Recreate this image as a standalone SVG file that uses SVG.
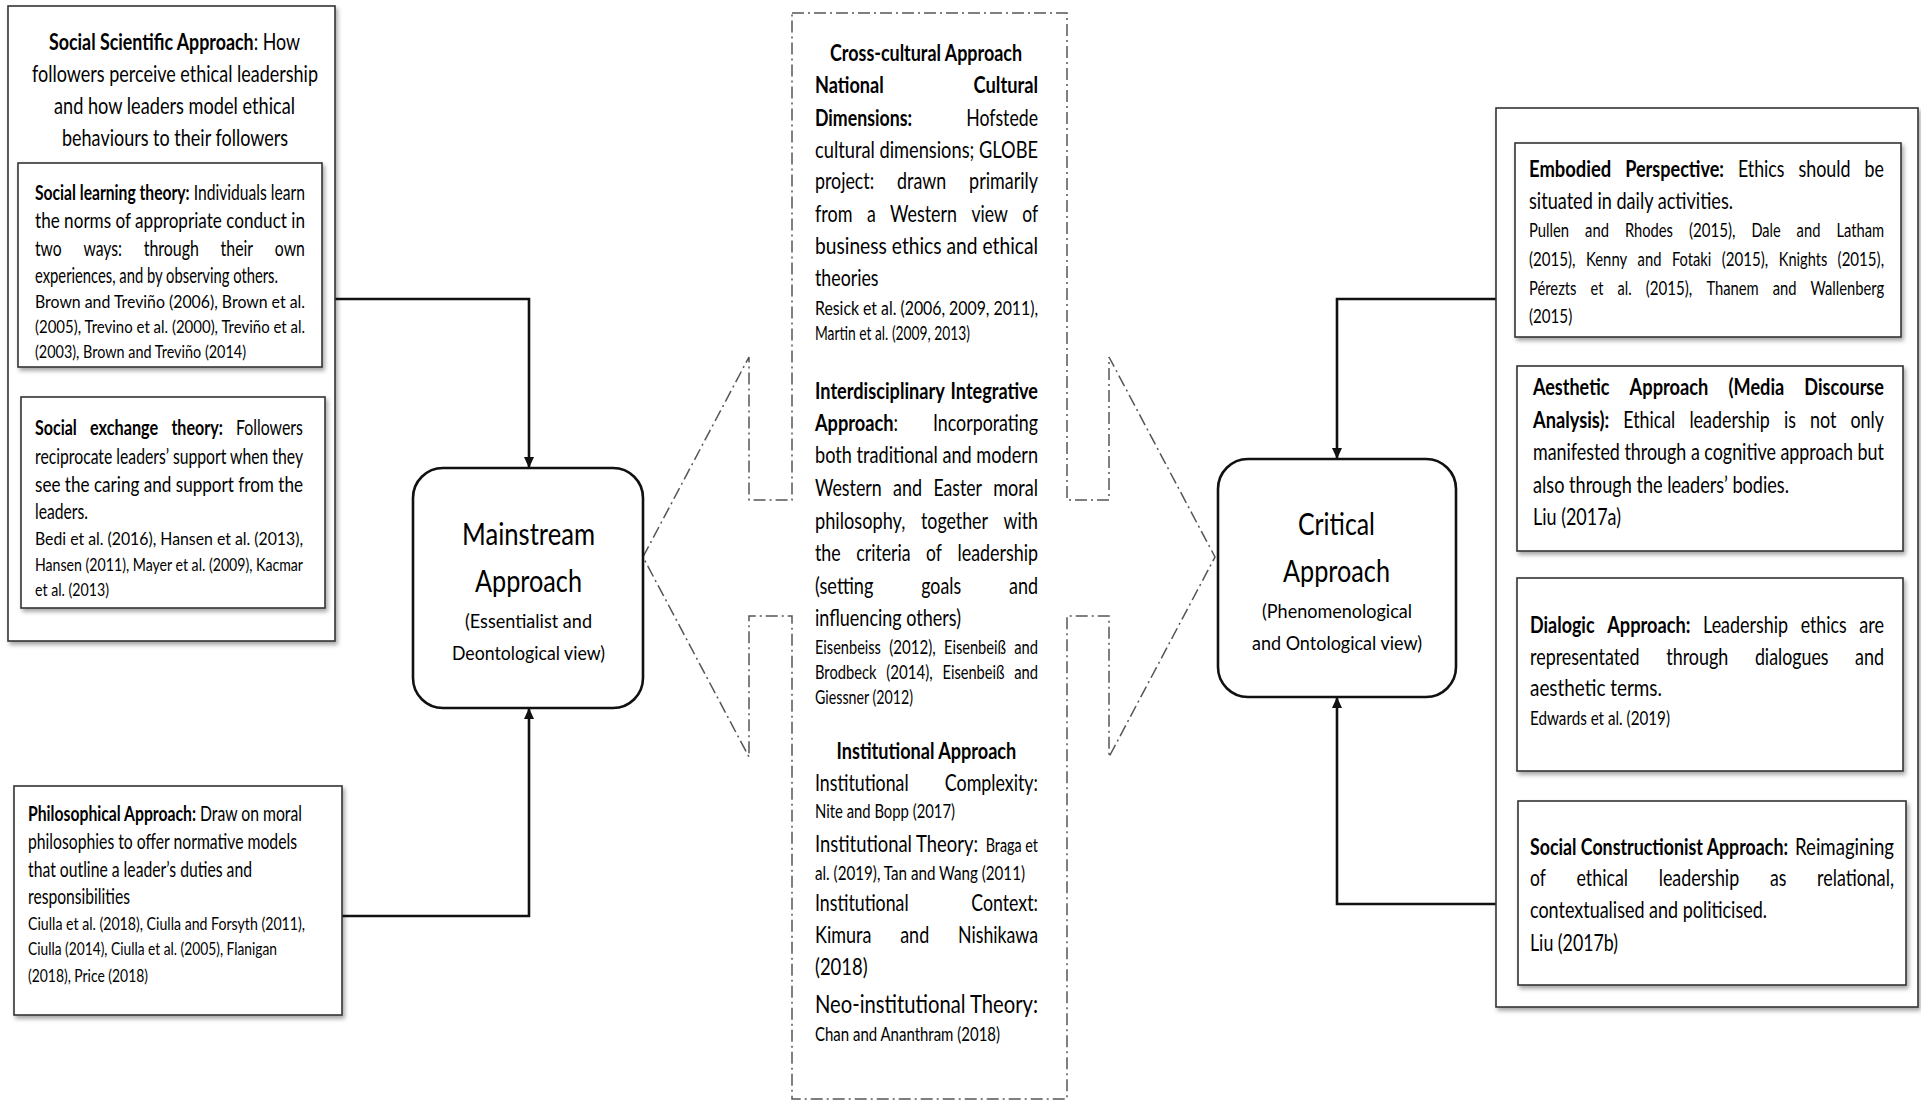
<svg xmlns="http://www.w3.org/2000/svg" width="1921" height="1103" viewBox="0 0 1921 1103">
<style>
text{font-family:Lato,"Open Sans","Liberation Sans",sans-serif;fill:#000}
.b{font-weight:bold}
.ti{font-size:23px}
.lm{font-size:20.5px}
.lc{font-size:18px}
.m{font-size:22.5px}
.c{font-size:18.5px}
.rc{font-size:19px}
.big{font-size:31px}
.sub{font-size:19px}
.neo{font-size:25px}
.box{fill:#fff;stroke:#333;stroke-width:1.6}
.rbox{fill:#fff;stroke:#111;stroke-width:2.6}
.conn{fill:none;stroke:#111;stroke-width:2.6}
.dd{fill:none;stroke:#555;stroke-width:1.5;stroke-dasharray:12 4 2 4}
</style>
<defs>
<filter id="sh" x="-5%" y="-5%" width="115%" height="115%">
<feDropShadow dx="2" dy="3" stdDeviation="2" flood-color="#000" flood-opacity="0.35"/>
</filter>
<marker id="ar" markerUnits="userSpaceOnUse" markerWidth="12" markerHeight="10" refX="11" refY="5" orient="auto">
<path d="M0,0 L11,5 L0,10 z" fill="#111"/>
</marker>
</defs>

<g id="connectors">
<path class="conn" d="M335,299 H529 V468" marker-end="url(#ar)"/>
<path class="conn" d="M342,916 H529 V708" marker-end="url(#ar)"/>
<path class="conn" d="M1496,299 H1337 V459" marker-end="url(#ar)"/>
<path class="conn" d="M1496,904 H1337 V697" marker-end="url(#ar)"/>
</g>

<g id="center-arrow">
<path class="dd" d="M792,13 H1067 V500 H1109 V357 L1215,557 L1109,757 V616 H1067 V1099 H792 V616 H749 V757 L643,557 L749,357 V500 H792 Z"/>
</g>

<g id="social-scientific">
<rect class="box" x="8" y="6" width="327" height="635" filter="url(#sh)"/>
<text class="ti" transform="matrix(.8 0 0 1 49 50)" textLength="313.75" lengthAdjust="spacingAndGlyphs"><tspan class="b">Social Scientific Approach</tspan>: How</text>
<text class="ti" transform="matrix(.8 0 0 1 32 82)" textLength="357.5" lengthAdjust="spacingAndGlyphs">followers perceive ethical leadership</text>
<text class="ti" transform="matrix(.8 0 0 1 54 114)" textLength="301.25" lengthAdjust="spacingAndGlyphs">and how leaders model ethical</text>
<text class="ti" transform="matrix(.8 0 0 1 62 146)" textLength="282.5" lengthAdjust="spacingAndGlyphs">behaviours to their followers</text>
</g>

<g id="social-learning">
<rect class="box" x="18" y="163" width="304" height="204" filter="url(#sh)"/>
<text class="lm" transform="matrix(.8 0 0 1 35 200)" textLength="337.5" lengthAdjust="spacingAndGlyphs"><tspan class="b">Social learning theory:</tspan> Individuals learn</text>
<text class="lm" transform="matrix(.8 0 0 1 35 228)" textLength="337.5" lengthAdjust="spacingAndGlyphs">the norms of appropriate conduct in</text>
<text class="lm" transform="matrix(.8 0 0 1 35 256)" textLength="33.4" lengthAdjust="spacingAndGlyphs">two</text>
<text class="lm" transform="matrix(.8 0 0 1 83.4 256)" textLength="48.25" lengthAdjust="spacingAndGlyphs">ways:</text>
<text class="lm" transform="matrix(.8 0 0 1 143.7 256)" textLength="69" lengthAdjust="spacingAndGlyphs">through</text>
<text class="lm" transform="matrix(.8 0 0 1 220.6 256)" textLength="40.6" lengthAdjust="spacingAndGlyphs">their</text>
<text class="lm" transform="matrix(.8 0 0 1 274.8 256)" textLength="37.6" lengthAdjust="spacingAndGlyphs">own</text>
<text class="lm" transform="matrix(.8 0 0 1 35 283)" textLength="303.75" lengthAdjust="spacingAndGlyphs">experiences, and by observing others.</text>
<text class="lc" transform="matrix(.8 0 0 1 35 308)" textLength="337.5" lengthAdjust="spacingAndGlyphs">Brown and Treviño (2006), Brown et al.</text>
<text class="lc" transform="matrix(.8 0 0 1 35 333)" textLength="337.5" lengthAdjust="spacingAndGlyphs">(2005), Trevino et al. (2000), Treviño et al.</text>
<text class="lc" transform="matrix(.8 0 0 1 35 358)" textLength="263.75" lengthAdjust="spacingAndGlyphs">(2003), Brown and Treviño (2014)</text>
</g>

<g id="social-exchange">
<rect class="box" x="21" y="397" width="304" height="211" filter="url(#sh)"/>
<text class="lm b" transform="matrix(.8 0 0 1 35 435)" textLength="52.25" lengthAdjust="spacingAndGlyphs">Social</text>
<text class="lm b" transform="matrix(.8 0 0 1 90 435)" textLength="85.25" lengthAdjust="spacingAndGlyphs">exchange</text>
<text class="lm b" transform="matrix(.8 0 0 1 171.4 435)" textLength="64.25" lengthAdjust="spacingAndGlyphs">theory:</text>
<text class="lm" transform="matrix(.8 0 0 1 236 435)" textLength="83.6" lengthAdjust="spacingAndGlyphs">Followers</text>
<text class="lm" transform="matrix(.8 0 0 1 35 464)" textLength="335" lengthAdjust="spacingAndGlyphs">reciprocate leaders’ support when they</text>
<text class="lm" transform="matrix(.8 0 0 1 35 492)" textLength="335" lengthAdjust="spacingAndGlyphs">see the caring and support from the</text>
<text class="lm" transform="matrix(.8 0 0 1 35 519)" textLength="66.25" lengthAdjust="spacingAndGlyphs">leaders.</text>
<text class="lc" transform="matrix(.8 0 0 1 35 545)" textLength="335" lengthAdjust="spacingAndGlyphs">Bedi et al. (2016), Hansen et al. (2013),</text>
<text class="lc" transform="matrix(.8 0 0 1 35 571)" textLength="335" lengthAdjust="spacingAndGlyphs">Hansen (2011), Mayer et al. (2009), Kacmar</text>
<text class="lc" transform="matrix(.8 0 0 1 35 596)" textLength="92.5" lengthAdjust="spacingAndGlyphs">et al. (2013)</text>
</g>

<g id="philosophical">
<rect class="box" x="14" y="786" width="328" height="229" filter="url(#sh)"/>
<text class="lm" transform="matrix(.8 0 0 1 28 821)" textLength="342.5" lengthAdjust="spacingAndGlyphs"><tspan class="b">Philosophical Approach:</tspan> Draw on moral</text>
<text class="lm" transform="matrix(.8 0 0 1 28 849)" textLength="336.25" lengthAdjust="spacingAndGlyphs">philosophies to offer normative models</text>
<text class="lm" transform="matrix(.8 0 0 1 28 877)" textLength="280" lengthAdjust="spacingAndGlyphs">that outline a leader’s duties and</text>
<text class="lm" transform="matrix(.8 0 0 1 28 904)" textLength="127.5" lengthAdjust="spacingAndGlyphs">responsibilities</text>
<text class="lc" transform="matrix(.8 0 0 1 28 930)" textLength="346.25" lengthAdjust="spacingAndGlyphs">Ciulla et al. (2018), Ciulla and Forsyth (2011),</text>
<text class="lc" transform="matrix(.8 0 0 1 28 955)" textLength="311.25" lengthAdjust="spacingAndGlyphs">Ciulla (2014), Ciulla et al. (2005), Flanigan</text>
<text class="lc" transform="matrix(.8 0 0 1 28 982)" textLength="150" lengthAdjust="spacingAndGlyphs">(2018), Price (2018)</text>
</g>

<g id="mainstream">
<rect class="rbox" x="413" y="468" width="230" height="240" rx="30"/>
<text class="big" transform="matrix(.8 0 0 1 462 545)" textLength="166.25" lengthAdjust="spacingAndGlyphs">Mainstream</text>
<text class="big" transform="matrix(.8 0 0 1 475 592)" textLength="133.75" lengthAdjust="spacingAndGlyphs">Approach</text>
<text class="sub" transform="matrix(.8 0 0 1 465 628)" textLength="158.75" lengthAdjust="spacingAndGlyphs">(Essentialist and</text>
<text class="sub" transform="matrix(.8 0 0 1 452 660)" textLength="191.25" lengthAdjust="spacingAndGlyphs">Deontological view)</text>
</g>

<g id="critical">
<rect class="rbox" x="1218" y="459" width="238" height="238" rx="30"/>
<text class="big" transform="matrix(.8 0 0 1 1298 535)" textLength="96.25" lengthAdjust="spacingAndGlyphs">Critical</text>
<text class="big" transform="matrix(.8 0 0 1 1283 582)" textLength="133.75" lengthAdjust="spacingAndGlyphs">Approach</text>
<text class="sub" transform="matrix(.8 0 0 1 1262 618)" textLength="187.5" lengthAdjust="spacingAndGlyphs">(Phenomenological</text>
<text class="sub" transform="matrix(.8 0 0 1 1252 650)" textLength="212.5" lengthAdjust="spacingAndGlyphs">and Ontological view)</text>
</g>

<g id="cross-cultural">
<text class="m b" transform="matrix(.8 0 0 1 830 61)" textLength="240" lengthAdjust="spacingAndGlyphs">Cross-cultural Approach</text>
<text class="m b" transform="matrix(.8 0 0 1 815 93)" textLength="85.9" lengthAdjust="spacingAndGlyphs">National</text>
<text class="m b" transform="matrix(.8 0 0 1 973.6 93)" textLength="80.5" lengthAdjust="spacingAndGlyphs">Cultural</text>
<text class="m b" transform="matrix(.8 0 0 1 815 126)" textLength="121.25" lengthAdjust="spacingAndGlyphs">Dimensions:</text>
<text class="m" transform="matrix(.8 0 0 1 966.2 126)" textLength="89.75" lengthAdjust="spacingAndGlyphs">Hofstede</text>
<text class="m" transform="matrix(.8 0 0 1 815 158)" textLength="278.75" lengthAdjust="spacingAndGlyphs">cultural dimensions; GLOBE</text>
<text class="m" transform="matrix(.8 0 0 1 815 189)" textLength="74" lengthAdjust="spacingAndGlyphs">project:</text>
<text class="m" transform="matrix(.8 0 0 1 897.1 189)" textLength="61.4" lengthAdjust="spacingAndGlyphs">drawn</text>
<text class="m" transform="matrix(.8 0 0 1 969.1 189)" textLength="86.1" lengthAdjust="spacingAndGlyphs">primarily</text>
<text class="m" transform="matrix(.8 0 0 1 815 222)" textLength="46.75" lengthAdjust="spacingAndGlyphs">from</text>
<text class="m" transform="matrix(.8 0 0 1 866.9 222)" textLength="11" lengthAdjust="spacingAndGlyphs">a</text>
<text class="m" transform="matrix(.8 0 0 1 890.1 222)" textLength="83.5" lengthAdjust="spacingAndGlyphs">Western</text>
<text class="m" transform="matrix(.8 0 0 1 971.4 222)" textLength="45.5" lengthAdjust="spacingAndGlyphs">view</text>
<text class="m" transform="matrix(.8 0 0 1 1022.2 222)" textLength="19.75" lengthAdjust="spacingAndGlyphs">of</text>
<text class="m" transform="matrix(.8 0 0 1 815 254)" textLength="278.75" lengthAdjust="spacingAndGlyphs">business ethics and ethical</text>
<text class="m" transform="matrix(.8 0 0 1 815 286)" textLength="79.4" lengthAdjust="spacingAndGlyphs">theories</text>
<text class="c" transform="matrix(.8 0 0 1 815 315)" textLength="278.75" lengthAdjust="spacingAndGlyphs">Resick et al. (2006, 2009, 2011),</text>
<text class="c" transform="matrix(.8 0 0 1 815 340)" textLength="193.75" lengthAdjust="spacingAndGlyphs">Martin et al. (2009, 2013)</text>
</g>

<g id="interdisciplinary">
<text class="m b" transform="matrix(.8 0 0 1 815 399)" textLength="162.4" lengthAdjust="spacingAndGlyphs">Interdisciplinary</text>
<text class="m b" transform="matrix(.8 0 0 1 950.6 399)" textLength="109.25" lengthAdjust="spacingAndGlyphs">Integrative</text>
<text class="m" transform="matrix(.8 0 0 1 815 431)" textLength="103.9" lengthAdjust="spacingAndGlyphs"><tspan class="b">Approach</tspan>:</text>
<text class="m" transform="matrix(.8 0 0 1 932.9 431)" textLength="131.4" lengthAdjust="spacingAndGlyphs">Incorporating</text>
<text class="m" transform="matrix(.8 0 0 1 815 463)" textLength="278.75" lengthAdjust="spacingAndGlyphs">both traditional and modern</text>
<text class="m" transform="matrix(.8 0 0 1 815 496)" textLength="83.5" lengthAdjust="spacingAndGlyphs">Western</text>
<text class="m" transform="matrix(.8 0 0 1 893.1 496)" textLength="36.25" lengthAdjust="spacingAndGlyphs">and</text>
<text class="m" transform="matrix(.8 0 0 1 933.5 496)" textLength="60.5" lengthAdjust="spacingAndGlyphs">Easter</text>
<text class="m" transform="matrix(.8 0 0 1 993.2 496)" textLength="56" lengthAdjust="spacingAndGlyphs">moral</text>
<text class="m" transform="matrix(.8 0 0 1 815 529)" textLength="113" lengthAdjust="spacingAndGlyphs">philosophy,</text>
<text class="m" transform="matrix(.8 0 0 1 921 529)" textLength="83.75" lengthAdjust="spacingAndGlyphs">together</text>
<text class="m" transform="matrix(.8 0 0 1 1003.6 529)" textLength="43" lengthAdjust="spacingAndGlyphs">with</text>
<text class="m" transform="matrix(.8 0 0 1 815 561)" textLength="32.1" lengthAdjust="spacingAndGlyphs">the</text>
<text class="m" transform="matrix(.8 0 0 1 856.2 561)" textLength="68" lengthAdjust="spacingAndGlyphs">criteria</text>
<text class="m" transform="matrix(.8 0 0 1 926.1 561)" textLength="19.75" lengthAdjust="spacingAndGlyphs">of</text>
<text class="m" transform="matrix(.8 0 0 1 957.5 561)" textLength="100.6" lengthAdjust="spacingAndGlyphs">leadership</text>
<text class="m" transform="matrix(.8 0 0 1 815 594)" textLength="72.9" lengthAdjust="spacingAndGlyphs">(setting</text>
<text class="m" transform="matrix(.8 0 0 1 921.3 594)" textLength="49.75" lengthAdjust="spacingAndGlyphs">goals</text>
<text class="m" transform="matrix(.8 0 0 1 1009 594)" textLength="36.25" lengthAdjust="spacingAndGlyphs">and</text>
<text class="m" transform="matrix(.8 0 0 1 815 626)" textLength="182.5" lengthAdjust="spacingAndGlyphs">influencing others)</text>
<text class="c" transform="matrix(.8 0 0 1 815 654)" textLength="82.4" lengthAdjust="spacingAndGlyphs">Eisenbeiss</text>
<text class="c" transform="matrix(.8 0 0 1 889.2 654)" textLength="58.1" lengthAdjust="spacingAndGlyphs">(2012),</text>
<text class="c" transform="matrix(.8 0 0 1 944 654)" textLength="77.5" lengthAdjust="spacingAndGlyphs">Eisenbeiß</text>
<text class="c" transform="matrix(.8 0 0 1 1014.2 654)" textLength="29.75" lengthAdjust="spacingAndGlyphs">and</text>
<text class="c" transform="matrix(.8 0 0 1 815 679)" textLength="76.75" lengthAdjust="spacingAndGlyphs">Brodbeck</text>
<text class="c" transform="matrix(.8 0 0 1 886.2 679)" textLength="58.1" lengthAdjust="spacingAndGlyphs">(2014),</text>
<text class="c" transform="matrix(.8 0 0 1 942.5 679)" textLength="77.5" lengthAdjust="spacingAndGlyphs">Eisenbeiß</text>
<text class="c" transform="matrix(.8 0 0 1 1014.2 679)" textLength="29.75" lengthAdjust="spacingAndGlyphs">and</text>
<text class="c" transform="matrix(.8 0 0 1 815 704)" textLength="122.5" lengthAdjust="spacingAndGlyphs">Giessner (2012)</text>
</g>

<g id="institutional">
<text class="m b" transform="matrix(.8 0 0 1 836.6 759)" textLength="224.6" lengthAdjust="spacingAndGlyphs">Institutional Approach</text>
<text class="m" transform="matrix(.8 0 0 1 815 791)" textLength="117" lengthAdjust="spacingAndGlyphs">Institutional</text>
<text class="m" transform="matrix(.8 0 0 1 944.8 791)" textLength="116.5" lengthAdjust="spacingAndGlyphs">Complexity:</text>
<text class="c" transform="matrix(.8 0 0 1 815 818)" textLength="175" lengthAdjust="spacingAndGlyphs">Nite and Bopp (2017)</text>
<text class="m" transform="matrix(.8 0 0 1 815 852)" textLength="203.75" lengthAdjust="spacingAndGlyphs">Institutional Theory:</text>
<text class="c" transform="matrix(.8 0 0 1 985.7 852)" textLength="65.4" lengthAdjust="spacingAndGlyphs">Braga et</text>
<text class="c" transform="matrix(.8 0 0 1 815 880)" textLength="262.5" lengthAdjust="spacingAndGlyphs">al. (2019), Tan and Wang (2011)</text>
<text class="m" transform="matrix(.8 0 0 1 815 911)" textLength="117" lengthAdjust="spacingAndGlyphs">Institutional</text>
<text class="m" transform="matrix(.8 0 0 1 971.2 911)" textLength="83.5" lengthAdjust="spacingAndGlyphs">Context:</text>
<text class="m" transform="matrix(.8 0 0 1 815 943)" textLength="70.4" lengthAdjust="spacingAndGlyphs">Kimura</text>
<text class="m" transform="matrix(.8 0 0 1 900.2 943)" textLength="36.25" lengthAdjust="spacingAndGlyphs">and</text>
<text class="m" transform="matrix(.8 0 0 1 958.1 943)" textLength="99.9" lengthAdjust="spacingAndGlyphs">Nishikawa</text>
<text class="m" transform="matrix(.8 0 0 1 815 975)" textLength="65.75" lengthAdjust="spacingAndGlyphs">(2018)</text>
<text class="neo" transform="matrix(.8 0 0 1 815 1013)" textLength="278.75" lengthAdjust="spacingAndGlyphs">Neo-institutional Theory:</text>
<text class="c" transform="matrix(.8 0 0 1 815 1041)" textLength="231.25" lengthAdjust="spacingAndGlyphs">Chan and Ananthram (2018)</text>
</g>

<g id="critical-group">
<rect class="box" x="1496" y="108" width="422" height="899" filter="url(#sh)"/>
</g>

<g id="embodied">
<rect class="box" x="1515" y="143" width="386" height="194" filter="url(#sh)"/>
<text class="m b" transform="matrix(.8 0 0 1 1529 177)" textLength="102.75" lengthAdjust="spacingAndGlyphs">Embodied</text>
<text class="m b" transform="matrix(.8 0 0 1 1625.2 177)" textLength="123.5" lengthAdjust="spacingAndGlyphs">Perspective:</text>
<text class="m" transform="matrix(.8 0 0 1 1738 177)" textLength="58" lengthAdjust="spacingAndGlyphs">Ethics</text>
<text class="m" transform="matrix(.8 0 0 1 1798.4 177)" textLength="65.25" lengthAdjust="spacingAndGlyphs">should</text>
<text class="m" transform="matrix(.8 0 0 1 1864.6 177)" textLength="24.25" lengthAdjust="spacingAndGlyphs">be</text>
<text class="m" transform="matrix(.8 0 0 1 1529 209)" textLength="255" lengthAdjust="spacingAndGlyphs">situated in daily activities.</text>
<text class="rc" transform="matrix(.8 0 0 1 1529 237)" textLength="50.1" lengthAdjust="spacingAndGlyphs">Pullen</text>
<text class="rc" transform="matrix(.8 0 0 1 1585.1 237)" textLength="29.75" lengthAdjust="spacingAndGlyphs">and</text>
<text class="rc" transform="matrix(.8 0 0 1 1624.9 237)" textLength="60" lengthAdjust="spacingAndGlyphs">Rhodes</text>
<text class="rc" transform="matrix(.8 0 0 1 1688.9 237)" textLength="58.1" lengthAdjust="spacingAndGlyphs">(2015),</text>
<text class="rc" transform="matrix(.8 0 0 1 1751.4 237)" textLength="36.5" lengthAdjust="spacingAndGlyphs">Dale</text>
<text class="rc" transform="matrix(.8 0 0 1 1796.6 237)" textLength="29.75" lengthAdjust="spacingAndGlyphs">and</text>
<text class="rc" transform="matrix(.8 0 0 1 1836.4 237)" textLength="59.6" lengthAdjust="spacingAndGlyphs">Latham</text>
<text class="rc" transform="matrix(.8 0 0 1 1529 266)" textLength="58.1" lengthAdjust="spacingAndGlyphs">(2015),</text>
<text class="rc" transform="matrix(.8 0 0 1 1586 266)" textLength="51.4" lengthAdjust="spacingAndGlyphs">Kenny</text>
<text class="rc" transform="matrix(.8 0 0 1 1637.6 266)" textLength="29.75" lengthAdjust="spacingAndGlyphs">and</text>
<text class="rc" transform="matrix(.8 0 0 1 1671.9 266)" textLength="49.25" lengthAdjust="spacingAndGlyphs">Fotaki</text>
<text class="rc" transform="matrix(.8 0 0 1 1721.8 266)" textLength="58.1" lengthAdjust="spacingAndGlyphs">(2015),</text>
<text class="rc" transform="matrix(.8 0 0 1 1778.8 266)" textLength="60.5" lengthAdjust="spacingAndGlyphs">Knights</text>
<text class="rc" transform="matrix(.8 0 0 1 1837.6 266)" textLength="58.1" lengthAdjust="spacingAndGlyphs">(2015),</text>
<text class="rc" transform="matrix(.8 0 0 1 1529 295)" textLength="59.4" lengthAdjust="spacingAndGlyphs">Pérezts</text>
<text class="rc" transform="matrix(.8 0 0 1 1590.6 295)" textLength="16.1" lengthAdjust="spacingAndGlyphs">et</text>
<text class="rc" transform="matrix(.8 0 0 1 1617.6 295)" textLength="17.6" lengthAdjust="spacingAndGlyphs">al.</text>
<text class="rc" transform="matrix(.8 0 0 1 1645.8 295)" textLength="58.1" lengthAdjust="spacingAndGlyphs">(2015),</text>
<text class="rc" transform="matrix(.8 0 0 1 1706.4 295)" textLength="65.25" lengthAdjust="spacingAndGlyphs">Thanem</text>
<text class="rc" transform="matrix(.8 0 0 1 1772.7 295)" textLength="29.75" lengthAdjust="spacingAndGlyphs">and</text>
<text class="rc" transform="matrix(.8 0 0 1 1810.6 295)" textLength="92" lengthAdjust="spacingAndGlyphs">Wallenberg</text>
<text class="rc" transform="matrix(.8 0 0 1 1529 323)" textLength="54" lengthAdjust="spacingAndGlyphs">(2015)</text>
</g>

<g id="aesthetic">
<rect class="box" x="1517" y="366" width="386" height="185" filter="url(#sh)"/>
<text class="m b" transform="matrix(.8 0 0 1 1533 395)" textLength="95.5" lengthAdjust="spacingAndGlyphs">Aesthetic</text>
<text class="m b" transform="matrix(.8 0 0 1 1629.6 395)" textLength="98.5" lengthAdjust="spacingAndGlyphs">Approach</text>
<text class="m b" transform="matrix(.8 0 0 1 1728.6 395)" textLength="69.5" lengthAdjust="spacingAndGlyphs">(Media</text>
<text class="m b" transform="matrix(.8 0 0 1 1804.3 395)" textLength="99.6" lengthAdjust="spacingAndGlyphs">Discourse</text>
<text class="m b" transform="matrix(.8 0 0 1 1533 428)" textLength="95.25" lengthAdjust="spacingAndGlyphs">Analysis):</text>
<text class="m" transform="matrix(.8 0 0 1 1623.3 428)" textLength="65" lengthAdjust="spacingAndGlyphs">Ethical</text>
<text class="m" transform="matrix(.8 0 0 1 1689.4 428)" textLength="100.6" lengthAdjust="spacingAndGlyphs">leadership</text>
<text class="m" transform="matrix(.8 0 0 1 1784 428)" textLength="14.9" lengthAdjust="spacingAndGlyphs">is</text>
<text class="m" transform="matrix(.8 0 0 1 1810 428)" textLength="33.1" lengthAdjust="spacingAndGlyphs">not</text>
<text class="m" transform="matrix(.8 0 0 1 1850.5 428)" textLength="41.9" lengthAdjust="spacingAndGlyphs">only</text>
<text class="m" transform="matrix(.8 0 0 1 1533 460)" textLength="438.75" lengthAdjust="spacingAndGlyphs">manifested through a cognitive approach but</text>
<text class="m" transform="matrix(.8 0 0 1 1533 493)" textLength="320" lengthAdjust="spacingAndGlyphs">also through the leaders’ bodies.</text>
<text class="m" transform="matrix(.8 0 0 1 1533 525)" textLength="110" lengthAdjust="spacingAndGlyphs">Liu (2017a)</text>
</g>

<g id="dialogic">
<rect class="box" x="1517" y="578" width="386" height="193" filter="url(#sh)"/>
<text class="m b" transform="matrix(.8 0 0 1 1530 633)" textLength="80.75" lengthAdjust="spacingAndGlyphs">Dialogic</text>
<text class="m b" transform="matrix(.8 0 0 1 1607.2 633)" textLength="104.1" lengthAdjust="spacingAndGlyphs">Approach:</text>
<text class="m" transform="matrix(.8 0 0 1 1703.1 633)" textLength="106.25" lengthAdjust="spacingAndGlyphs">Leadership</text>
<text class="m" transform="matrix(.8 0 0 1 1800.7 633)" textLength="57.4" lengthAdjust="spacingAndGlyphs">ethics</text>
<text class="m" transform="matrix(.8 0 0 1 1859.2 633)" textLength="30.9" lengthAdjust="spacingAndGlyphs">are</text>
<text class="m" transform="matrix(.8 0 0 1 1530 665)" textLength="137" lengthAdjust="spacingAndGlyphs">representated</text>
<text class="m" transform="matrix(.8 0 0 1 1666.2 665)" textLength="77.6" lengthAdjust="spacingAndGlyphs">through</text>
<text class="m" transform="matrix(.8 0 0 1 1754.9 665)" textLength="92" lengthAdjust="spacingAndGlyphs">dialogues</text>
<text class="m" transform="matrix(.8 0 0 1 1855.1 665)" textLength="36.25" lengthAdjust="spacingAndGlyphs">and</text>
<text class="m" transform="matrix(.8 0 0 1 1530 696)" textLength="165" lengthAdjust="spacingAndGlyphs">aesthetic terms.</text>
<text class="rc" transform="matrix(.8 0 0 1 1530 725)" textLength="175" lengthAdjust="spacingAndGlyphs">Edwards et al. (2019)</text>
</g>

<g id="social-constructionist">
<rect class="box" x="1518" y="801" width="388" height="184" filter="url(#sh)"/>
<text class="m b" transform="matrix(.8 0 0 1 1530 855)" textLength="322.5" lengthAdjust="spacingAndGlyphs">Social Constructionist Approach:</text>
<text class="m" transform="matrix(.8 0 0 1 1795 855)" textLength="123.75" lengthAdjust="spacingAndGlyphs">Reimagining</text>
<text class="m" transform="matrix(.8 0 0 1 1530 886)" textLength="19.75" lengthAdjust="spacingAndGlyphs">of</text>
<text class="m" transform="matrix(.8 0 0 1 1576.5 886)" textLength="64.4" lengthAdjust="spacingAndGlyphs">ethical</text>
<text class="m" transform="matrix(.8 0 0 1 1658.7 886)" textLength="100.6" lengthAdjust="spacingAndGlyphs">leadership</text>
<text class="m" transform="matrix(.8 0 0 1 1769.9 886)" textLength="20.5" lengthAdjust="spacingAndGlyphs">as</text>
<text class="m" transform="matrix(.8 0 0 1 1817.1 886)" textLength="96.1" lengthAdjust="spacingAndGlyphs">relational,</text>
<text class="m" transform="matrix(.8 0 0 1 1530 918)" textLength="296.25" lengthAdjust="spacingAndGlyphs">contextualised and politicised.</text>
<text class="m" transform="matrix(.8 0 0 1 1530 951)" textLength="110" lengthAdjust="spacingAndGlyphs">Liu (2017b)</text>
</g>
</svg>
